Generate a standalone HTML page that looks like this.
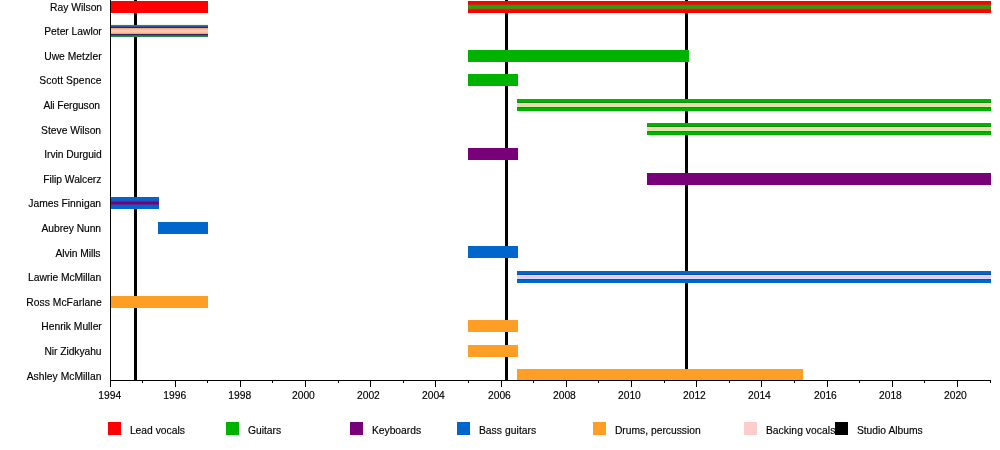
<!DOCTYPE html>
<html><head><meta charset="utf-8"><title>Timeline</title>
<style>
html,body{margin:0;padding:0;background:#fff;}
body{width:1000px;height:450px;overflow:hidden;}
svg{display:block;}
text{font-family:"Liberation Sans",Arial,Helvetica,sans-serif;font-size:10.3px;fill:#000;stroke:#000;stroke-width:0.15px;}
.b{shape-rendering:crispEdges;}
</style></head><body>
<svg width="1000" height="450" viewBox="0 0 1000 450">
<rect x="0" y="0" width="1000" height="450" fill="#ffffff"/>
<g class="b">
<rect x="111" y="24" width="97" height="1" fill="#e6fbe6"/>
<rect x="111" y="37" width="97" height="1" fill="#dcf9dc"/>
<rect x="134" y="0" width="3" height="381" fill="#000"/>
<rect x="505" y="0" width="3" height="381" fill="#000"/>
<rect x="685" y="0" width="3" height="381" fill="#000"/>
<rect x="111" y="1" width="97" height="12" fill="#ff0000"/>
<rect x="468" y="1" width="523" height="12" fill="#ff0000"/>
<rect x="468" y="4" width="523" height="6" fill="#b83010"/>
<rect x="468" y="5" width="523" height="4" fill="#707418"/>
<rect x="468" y="6" width="523" height="2" fill="#18a808"/>
<rect x="111" y="25" width="97" height="1" fill="#2a8c48"/>
<rect x="111" y="26" width="97" height="1" fill="#35509c"/>
<rect x="111" y="27" width="97" height="1" fill="#3c1c6c"/>
<rect x="111" y="28" width="97" height="1" fill="#f2a878"/>
<rect x="111" y="29" width="97" height="1" fill="#ffbf88"/>
<rect x="111" y="30" width="97" height="1" fill="#ffc8b4"/>
<rect x="111" y="31" width="97" height="1" fill="#ffc8b8"/>
<rect x="111" y="32" width="97" height="1" fill="#ffc090"/>
<rect x="111" y="33" width="97" height="1" fill="#f2a880"/>
<rect x="111" y="34" width="97" height="1" fill="#3c1c6c"/>
<rect x="111" y="35" width="97" height="1" fill="#35589c"/>
<rect x="111" y="36" width="97" height="1" fill="#2a8c48"/>
<rect x="468" y="50" width="221" height="12" fill="#00b300"/>
<rect x="468" y="74" width="50" height="12" fill="#00b300"/>
<rect x="517" y="99" width="474" height="12" fill="#00b300"/>
<rect x="517" y="102" width="474" height="6" fill="#168e10"/>
<rect x="517" y="103" width="474" height="4" fill="#d2f0a0"/>
<rect x="517" y="104" width="474" height="2" fill="#f2d4b8"/>
<rect x="647" y="123" width="344" height="12" fill="#00b300"/>
<rect x="647" y="126" width="344" height="6" fill="#168e10"/>
<rect x="647" y="127" width="344" height="4" fill="#d2f0a0"/>
<rect x="647" y="128" width="344" height="2" fill="#f2d4b8"/>
<rect x="468" y="148" width="50" height="12" fill="#780078"/>
<rect x="647" y="173" width="344" height="12" fill="#780078"/>
<rect x="111" y="197" width="48" height="12" fill="#0066cc"/>
<rect x="111" y="200" width="48" height="6" fill="#1858c4"/>
<rect x="111" y="201" width="48" height="4" fill="#4a2ca0"/>
<rect x="111" y="202" width="48" height="2" fill="#780078"/>
<rect x="158" y="222" width="50" height="12" fill="#0066cc"/>
<rect x="468" y="246" width="50" height="12" fill="#0066cc"/>
<rect x="517" y="271" width="474" height="12" fill="#0066cc"/>
<rect x="517" y="274" width="474" height="6" fill="#0c52a8"/>
<rect x="517" y="275" width="474" height="4" fill="#d0dcff"/>
<rect x="517" y="276" width="474" height="2" fill="#f4c6dc"/>
<rect x="111" y="296" width="97" height="12" fill="#ff9e24"/>
<rect x="468" y="320" width="50" height="12" fill="#ff9e24"/>
<rect x="468" y="345" width="50" height="12" fill="#ff9e24"/>
<rect x="517" y="369" width="286" height="12" fill="#ff9e24"/>
<rect x="110" y="0" width="1" height="381" fill="#000"/>
<rect x="110" y="380" width="881" height="1" fill="#000"/>
<rect x="110" y="380" width="1" height="7" fill="#000"/>
<rect x="142" y="380" width="1" height="3" fill="#000"/>
<rect x="175" y="380" width="1" height="7" fill="#000"/>
<rect x="207" y="380" width="1" height="3" fill="#000"/>
<rect x="240" y="380" width="1" height="7" fill="#000"/>
<rect x="272" y="380" width="1" height="3" fill="#000"/>
<rect x="305" y="380" width="1" height="7" fill="#000"/>
<rect x="338" y="380" width="1" height="3" fill="#000"/>
<rect x="370" y="380" width="1" height="7" fill="#000"/>
<rect x="403" y="380" width="1" height="3" fill="#000"/>
<rect x="435" y="380" width="1" height="7" fill="#000"/>
<rect x="468" y="380" width="1" height="3" fill="#000"/>
<rect x="501" y="380" width="1" height="7" fill="#000"/>
<rect x="533" y="380" width="1" height="3" fill="#000"/>
<rect x="566" y="380" width="1" height="7" fill="#000"/>
<rect x="598" y="380" width="1" height="3" fill="#000"/>
<rect x="631" y="380" width="1" height="7" fill="#000"/>
<rect x="664" y="380" width="1" height="3" fill="#000"/>
<rect x="696" y="380" width="1" height="7" fill="#000"/>
<rect x="729" y="380" width="1" height="3" fill="#000"/>
<rect x="761" y="380" width="1" height="7" fill="#000"/>
<rect x="794" y="380" width="1" height="3" fill="#000"/>
<rect x="827" y="380" width="1" height="7" fill="#000"/>
<rect x="859" y="380" width="1" height="3" fill="#000"/>
<rect x="892" y="380" width="1" height="7" fill="#000"/>
<rect x="924" y="380" width="1" height="3" fill="#000"/>
<rect x="957" y="380" width="1" height="7" fill="#000"/>
<rect x="990" y="380" width="1" height="3" fill="#000"/>
</g>
<text x="109.80" y="399.2" text-anchor="middle">1994</text>
<text x="174.80" y="399.2" text-anchor="middle">1996</text>
<text x="239.80" y="399.2" text-anchor="middle">1998</text>
<text x="303.40" y="399.2" text-anchor="middle">2000</text>
<text x="368.40" y="399.2" text-anchor="middle">2002</text>
<text x="433.40" y="399.2" text-anchor="middle">2004</text>
<text x="499.40" y="399.2" text-anchor="middle">2006</text>
<text x="564.40" y="399.2" text-anchor="middle">2008</text>
<text x="629.40" y="399.2" text-anchor="middle">2010</text>
<text x="694.40" y="399.2" text-anchor="middle">2012</text>
<text x="759.40" y="399.2" text-anchor="middle">2014</text>
<text x="825.40" y="399.2" text-anchor="middle">2016</text>
<text x="890.40" y="399.2" text-anchor="middle">2018</text>
<text x="955.40" y="399.2" text-anchor="middle">2020</text>
<text x="102.1" y="10.8" text-anchor="end" textLength="52.13" lengthAdjust="spacing">Ray Wilson</text>
<text x="101.8" y="34.8" text-anchor="end" textLength="57.56" lengthAdjust="spacing">Peter Lawlor</text>
<text x="101.6" y="59.7" text-anchor="end" textLength="57.37" lengthAdjust="spacing">Uwe Metzler</text>
<text x="101.4" y="83.7" text-anchor="end" textLength="62.05" lengthAdjust="spacing">Scott Spence</text>
<text x="100.0" y="108.7" text-anchor="end" textLength="56.56" lengthAdjust="spacing">Ali Ferguson</text>
<text x="101.1" y="133.6" text-anchor="end" textLength="60.04" lengthAdjust="spacing">Steve Wilson</text>
<text x="101.8" y="157.7" text-anchor="end" textLength="57.52" lengthAdjust="spacing">Irvin Durguid</text>
<text x="101.4" y="182.5" text-anchor="end" textLength="58.05" lengthAdjust="spacing">Filip Walcerz</text>
<text x="101.1" y="206.7" text-anchor="end" textLength="72.84" lengthAdjust="spacing">James Finnigan</text>
<text x="101.1" y="231.7" text-anchor="end" textLength="59.56" lengthAdjust="spacing">Aubrey Nunn</text>
<text x="100.5" y="256.7" text-anchor="end" textLength="45.03" lengthAdjust="spacing">Alvin Mills</text>
<text x="101.2" y="280.7" text-anchor="end" textLength="73.13" lengthAdjust="spacing">Lawrie McMillan</text>
<text x="101.8" y="305.7" text-anchor="end" textLength="75.57" lengthAdjust="spacing">Ross McFarlane</text>
<text x="101.8" y="329.7" text-anchor="end" textLength="60.51" lengthAdjust="spacing">Henrik Muller</text>
<text x="101.6" y="354.7" text-anchor="end" textLength="57.20" lengthAdjust="spacing">Nir Zidkyahu</text>
<text x="101.4" y="379.6" text-anchor="end" textLength="74.69" lengthAdjust="spacing">Ashley McMillan</text>
<rect class="b" x="108" y="422" width="13" height="13" fill="#ff0000"/>
<text x="129.9" y="433.6">Lead vocals</text>
<rect class="b" x="226" y="422" width="13" height="13" fill="#00b300"/>
<text x="247.9" y="433.6">Guitars</text>
<rect class="b" x="350" y="422" width="13" height="13" fill="#780078"/>
<text x="371.9" y="433.6">Keyboards</text>
<rect class="b" x="457" y="422" width="13" height="13" fill="#0066cc"/>
<text x="478.9" y="433.6" textLength="57.37" lengthAdjust="spacing">Bass guitars</text>
<rect class="b" x="593" y="422" width="13" height="13" fill="#ff9e24"/>
<text x="614.9" y="433.6">Drums, percussion</text>
<rect class="b" x="744" y="422" width="13" height="13" fill="#ffcccc"/>
<text x="765.9" y="433.6" textLength="69.39" lengthAdjust="spacing">Backing vocals</text>
<rect class="b" x="835" y="422" width="13" height="13" fill="#000000"/>
<text x="856.9" y="433.6">Studio Albums</text>
</svg></body></html>
